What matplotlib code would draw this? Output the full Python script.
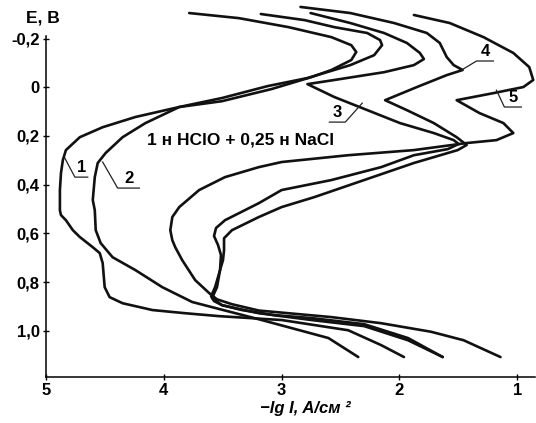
import matplotlib
matplotlib.use("Agg")
import matplotlib.pyplot as plt

plt.rcParams['font.family'] = ['Liberation Sans', 'DejaVu Sans']

# ---- data: -lg i (x) and E, V (y) for each curve ----
c1_x = [3.785, 3.363, 2.941, 2.578, 2.409, 2.367, 2.409, 2.578, 2.747, 3.084, 3.506, 3.869,
        4.241, 4.519, 4.713, 4.831, 4.857, 4.873, 4.882, 4.882, 4.873, 4.831, 4.772, 4.713,
        4.603, 4.544, 4.519, 4.502, 4.460, 4.350, 4.097, 3.819, 3.532, 3.000, 2.435, 2.156, 1.962]
c1_y = [-0.305, -0.284, -0.247, -0.206, -0.173, -0.145, -0.112, -0.071, -0.042, 0.007, 0.057, 0.081,
        0.122, 0.164, 0.205, 0.258, 0.299, 0.353, 0.422, 0.505, 0.525, 0.546, 0.587, 0.615,
        0.657, 0.681, 0.722, 0.821, 0.862, 0.887, 0.915, 0.928, 0.940, 0.956, 0.998, 1.059, 1.108]

c2_x = [3.177, 2.806, 2.553, 2.274, 2.165, 2.148, 2.215, 2.418, 2.781, 3.118, 3.506, 3.869,
        4.156, 4.350, 4.494, 4.561, 4.586, 4.603, 4.586, 4.578, 4.536, 4.435, 4.241, 4.013,
        3.759, 3.169, 2.603, 2.350]
c2_y = [-0.301, -0.276, -0.247, -0.223, -0.194, -0.173, -0.132, -0.091, -0.038, -0.005, 0.044, 0.081,
        0.147, 0.205, 0.270, 0.311, 0.369, 0.463, 0.505, 0.587, 0.640, 0.698, 0.751, 0.821,
        0.882, 0.956, 1.030, 1.108]

c3_x = [2.755, 2.418, 2.131, 1.937, 1.827, 1.793, 1.878, 2.131, 2.553, 2.781, 2.553, 1.996,
        1.709, 1.540, 1.498, 1.591, 1.878, 2.156, 2.578, 3.000, 3.194, 3.481, 3.557, 3.574,
        3.540, 3.515, 3.523, 3.565, 3.599, 3.574, 3.506, 3.338, 3.059, 2.747, 2.300, 1.928, 1.633]
c3_y = [-0.305, -0.264, -0.223, -0.182, -0.141, -0.116, -0.091, -0.062, -0.030, -0.013, 0.040, 0.147,
        0.188, 0.217, 0.233, 0.254, 0.279, 0.328, 0.381, 0.422, 0.476, 0.546, 0.578, 0.611,
        0.648, 0.689, 0.751, 0.821, 0.858, 0.878, 0.895, 0.915, 0.936, 0.948, 0.973, 1.030, 1.108]

c4_x = [2.840, 2.418, 2.046, 1.768, 1.658, 1.599, 1.540, 1.464, 1.599, 1.852, 2.122, 1.937,
        1.709, 1.515, 1.430, 1.506, 1.878, 2.300, 2.722, 3.000, 3.194, 3.422, 3.489, 3.489,
        3.498, 3.523, 3.549, 3.591, 3.506, 3.194, 2.747, 2.300, 1.928, 1.633]
c4_y = [-0.330, -0.305, -0.264, -0.223, -0.182, -0.124, -0.091, -0.071, -0.050, -0.001, 0.053, 0.094,
        0.147, 0.205, 0.237, 0.258, 0.311, 0.381, 0.451, 0.492, 0.533, 0.587, 0.620, 0.669,
        0.710, 0.751, 0.821, 0.866, 0.895, 0.928, 0.956, 0.981, 1.039, 1.108]

c5_x = [1.878, 1.574, 1.287, 1.034, 0.899, 0.865, 0.949, 1.203, 1.515, 1.321, 1.118, 1.034,
        1.177, 1.430, 1.878, 2.435, 3.000, 3.194, 3.481, 3.700, 3.869, 3.928, 3.945, 3.928,
        3.903, 3.844, 3.734, 3.616, 3.549, 3.422, 3.194, 2.578, 2.156, 1.734, 1.456, 1.143]
c5_y = [-0.297, -0.264, -0.206, -0.141, -0.083, -0.030, -0.001, 0.024, 0.053, 0.106, 0.147, 0.188,
        0.217, 0.229, 0.258, 0.279, 0.307, 0.328, 0.369, 0.422, 0.492, 0.533, 0.587, 0.628,
        0.657, 0.710, 0.792, 0.845, 0.871, 0.891, 0.917, 0.944, 0.969, 1.004, 1.039, 1.108]

curves = [(c1_x, c1_y), (c2_x, c2_y), (c3_x, c3_y), (c4_x, c4_y), (c5_x, c5_y)]

x_ticks = [5, 4, 3, 2, 1]
x_ticklabels = ["5", "4", "3", "2", "1"]
y_ticks = [-0.2, 0.0, 0.2, 0.4, 0.6, 0.8, 1.0]
y_ticklabels = ["-0,2", "0", "0,2", "0,4", "0,6", "0,8", "1,0"]

curve_labels = ["1", "2", "3", "4", "5"]
# leader: point on curve, corner, underline end
leaders = [
    ((4.840, 0.291), (4.755, 0.369), (4.646, 0.369)),
    ((4.519, 0.307), (4.392, 0.414), (4.207, 0.414)),
    ((2.316, 0.065), (2.460, 0.143), (2.595, 0.143)),
    ((1.473, -0.071), (1.346, -0.108), (1.203, -0.108)),
    ((1.177, 0.012), (1.110, 0.081), (0.966, 0.081)),
]

fig = plt.figure(figsize=(5.36, 4.23), dpi=100)
ax = fig.add_axes([46 / 536, 1 - 377 / 423, (535 - 46) / 536, (377 - 5) / 423])

for cx, cy in curves:
    ax.plot(cx, cy, color="#111111", lw=1.9, solid_joinstyle="round",
            solid_capstyle="round", clip_on=False)

for lab, (p0, p1, p2) in zip(curve_labels, leaders):
    ax.plot([p0[0], p1[0], p2[0]], [p0[1], p1[1], p2[1]], color="#222222", lw=0.9,
            clip_on=False)
    ax.text((p1[0] + p2[0]) / 2, p1[1] - 0.008, lab, ha="center", va="bottom",
            fontsize=12, fontweight="bold")

ax.text(3.35, 0.217, "1 н HClO + 0,25 н NaCl", ha="center", va="center",
        fontsize=12.5, fontweight="bold")

ax.set_xlim(4.975, 0.85)
ax.set_ylim(1.19, -0.338)

ax.spines["top"].set_visible(False)
ax.spines["right"].set_visible(False)
ax.spines["left"].set_bounds(1.19, -0.21)
ax.spines["left"].set_linewidth(1.1)
ax.spines["bottom"].set_linewidth(1.1)

ax.set_xticks(x_ticks)
ax.set_xticklabels(x_ticklabels, fontsize=12, fontweight="bold")
ax.set_yticks(y_ticks)
ax.set_yticklabels(y_ticklabels, fontsize=12, fontweight="bold")
ax.tick_params(axis="both", direction="inout", length=5, width=1.0, pad=2)

fig.text(43 / 536, 1 - 18 / 423, "E, B", ha="center", va="center",
         fontsize=12.5, fontweight="bold")
fig.text(305 / 536, 1 - 408 / 423, "−lg I, A/см ²", ha="center", va="center",
         fontsize=12, fontweight="bold", fontstyle="italic")

fig.savefig("out.png", dpi=100)
